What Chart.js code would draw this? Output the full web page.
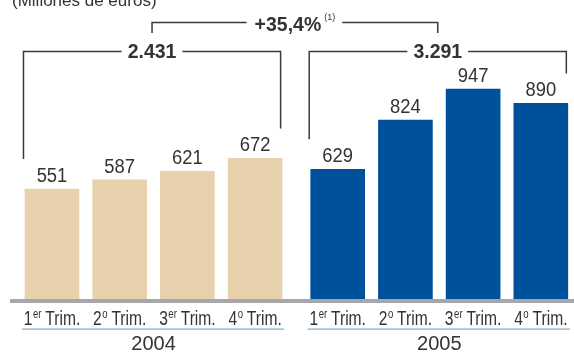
<!DOCTYPE html>
<html>
<head>
<meta charset="utf-8">
<script src="https://cdn.jsdelivr.net/npm/chart.js@4.4.0/dist/chart.umd.min.js"></script>
<style>
  html, body { margin: 0; padding: 0; background: #ffffff; }
  #wrap { width: 574px; height: 353px; position: relative; overflow: hidden; }
</style>
</head>
<body>
<div id="wrap"><canvas id="chart" width="574" height="353"></canvas></div>
<script>
// Quarterly figures, millions of euros
const years = ['2004', '2005'];
const tickNumbers = ['1', '2', '3', '4'];
const tickSuffixes = ['er', 'o', 'er', 'o'];
const tickWord = 'Trim.';
const values2004 = [551, 587, 621, 672];
const values2005 = [629, 824, 947, 890];
const yearTotals = ['2.431', '3.291'];
const growthLabel = '+35,4%';
const growthNote = '(1)';
const title = '(Millones de euros)';

// Layout: distance between the first bar of each year on the x scale
const GROUP_STEP = 4.22;
const COLORS = ['#e8d1ad', '#00519b'];
const TEXT = '#333333';
const LINE = '#3a3a3a';
const SANS = '"Liberation Sans", Arial, sans-serif';
// horizontal squeeze used for the condensed lettering
const CONDENSE = 0.8;

const series = [values2004, values2005];
const points = [];
const barColors = [];
series.forEach((vals, g) => {
  vals.forEach((v, i) => {
    points.push({ x: g * GROUP_STEP + i, y: v });
    barColors.push(COLORS[g]);
  });
});

// draws text squeezed horizontally, anchored at (x, y) with the given alignment
function condensedText(ctx, text, x, y, align, squeeze) {
  const w = ctx.measureText(text).width * squeeze;
  let left = x;
  if (align === 'center') left = x - w / 2;
  else if (align === 'right') left = x - w;
  ctx.save();
  ctx.textAlign = 'left';
  ctx.translate(left, y);
  ctx.scale(squeeze, 1);
  ctx.fillText(text, 0, 0);
  ctx.restore();
  return w;
}

const annotate = {
  id: 'annotate',
  afterDatasetsDraw(chart) {
    const ctx = chart.ctx;
    const area = chart.chartArea;
    const bars = chart.getDatasetMeta(0).data;
    ctx.save();

    // grey baseline
    ctx.fillStyle = '#a7a7ab';
    ctx.fillRect(area.left, area.bottom - 2, area.right - area.left, 4);

    // value labels above bars
    ctx.fillStyle = TEXT;
    ctx.textBaseline = 'alphabetic';
    ctx.font = '20px ' + SANS;
    bars.forEach((bar, i) => {
      condensedText(ctx, String(points[i].y), bar.x, bar.y - 7, 'center', 0.92);
    });

    // title
    ctx.textAlign = 'left';
    ctx.font = '17px ' + SANS;
    ctx.fillText(title, 12, 6);

    ctx.strokeStyle = LINE;
    ctx.lineWidth = 1.5;
    const BRACKET_Y = 51.5;
    const centers = [];
    years.forEach((yr, g) => {
      const first = bars[g * 4];
      const last = bars[g * 4 + 3];
      const left = first.x - first.width / 2 - 1.5;
      const right = last.x + last.width / 2 - 1.5;
      const cx = (first.x + last.x) / 2 - 1.5;
      centers.push(cx);

      // year total bracket
      ctx.font = 'bold 20.5px ' + SANS;
      const tw = ctx.measureText(yearTotals[g]).width * 0.95;
      ctx.beginPath();
      ctx.moveTo(left, first.y - 30);
      ctx.lineTo(left, BRACKET_Y);
      ctx.lineTo(cx - tw / 2 - 6, BRACKET_Y);
      ctx.moveTo(cx + tw / 2 + 6, BRACKET_Y);
      ctx.lineTo(right, BRACKET_Y);
      ctx.lineTo(right, last.y - 30);
      ctx.stroke();
      condensedText(ctx, yearTotals[g], cx, 58, 'center', 0.95);

      // quarter labels with superscript ordinals
      for (let i = 0; i < 4; i++) {
        const bar = bars[g * 4 + i];
        ctx.font = '19.5px ' + SANS;
        const wn = ctx.measureText(tickNumbers[i]).width * CONDENSE;
        const ww = ctx.measureText(' ' + tickWord).width * CONDENSE;
        ctx.font = '12px ' + SANS;
        const ws = ctx.measureText(tickSuffixes[i]).width * CONDENSE;
        let x = bar.x - (wn + ws + ww) / 2;
        ctx.font = '19.5px ' + SANS;
        x += condensedText(ctx, tickNumbers[i], x, 325, 'left', CONDENSE);
        ctx.font = '12px ' + SANS;
        x += condensedText(ctx, tickSuffixes[i], x + 0.5, 318, 'left', CONDENSE);
        ctx.font = '19.5px ' + SANS;
        condensedText(ctx, ' ' + tickWord, x, 325, 'left', CONDENSE);
      }

      // underline and year
      ctx.fillStyle = '#7fa7c9';
      ctx.fillRect(first.x - first.width / 2 - 3, 328.5, (last.x + last.width / 2 + 2) - (first.x - first.width / 2 - 3), 1.2);
      ctx.fillStyle = TEXT;
      ctx.textAlign = 'center';
      ctx.font = '20px ' + SANS;
      ctx.fillText(yr, (first.x + last.x) / 2, 350);
    });

    // year-on-year growth bracket
    ctx.font = 'bold 20.5px ' + SANS;
    const gw = ctx.measureText(growthLabel).width * 0.95;
    ctx.font = '9px ' + SANS;
    const nw = ctx.measureText(growthNote).width;
    const blockW = gw + 3 + nw;
    const mid = (centers[0] + centers[1]) / 2;
    const gx = mid - blockW / 2;
    ctx.beginPath();
    ctx.moveTo(centers[0], 33);
    ctx.lineTo(centers[0], 22.5);
    ctx.lineTo(gx - 8, 22.5);
    ctx.moveTo(gx + blockW + 7, 22.5);
    ctx.lineTo(centers[1], 22.5);
    ctx.lineTo(centers[1], 33);
    ctx.stroke();
    ctx.font = 'bold 20.5px ' + SANS;
    condensedText(ctx, growthLabel, gx, 31, 'left', 0.95);
    ctx.font = '9px ' + SANS;
    ctx.textAlign = 'left';
    ctx.fillText(growthNote, gx + gw + 3, 20);

    ctx.restore();
  }
};

new Chart(document.getElementById('chart'), {
  type: 'bar',
  data: {
    datasets: [{
      data: points,
      backgroundColor: barColors,
      borderWidth: 0,
      barThickness: 54
    }]
  },
  options: {
    responsive: false,
    animation: false,
    devicePixelRatio: 1,
    layout: { padding: { left: 10, right: 0, top: 0, bottom: 52 } },
    plugins: { legend: { display: false }, tooltip: { enabled: false } },
    scales: {
      x: { type: 'linear', min: -0.62, max: 7.71, offset: false, display: false },
      y: { min: 107, max: 1300, display: false }
    }
  },
  plugins: [annotate]
});
</script>
</body>
</html>
